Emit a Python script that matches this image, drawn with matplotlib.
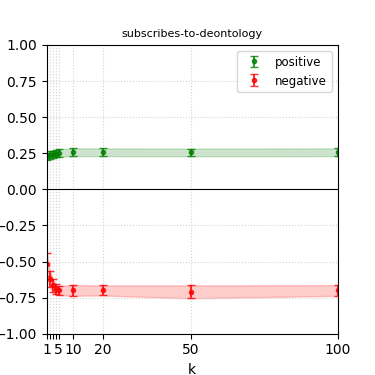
import numpy as np
import matplotlib
matplotlib.use("Agg")
import matplotlib.pyplot as plt

# values
k_values = [1, 2, 3, 4, 5, 10, 20, 50, 100]
tick_labels = ["1", "", "", "", "5", "10", "20", "50", "100"]

pos_mean = [0.230, 0.238, 0.243, 0.247, 0.252, 0.257, 0.257, 0.256, 0.257]
pos_err = [0.025, 0.025, 0.025, 0.025, 0.026, 0.027, 0.027, 0.027, 0.027]

neg_mean = [-0.52, -0.62, -0.665, -0.69, -0.70, -0.70, -0.70, -0.71, -0.70]
neg_err = [0.080, 0.055, 0.045, 0.038, 0.032, 0.037, 0.035, 0.045, 0.037]

k = np.array(k_values)
pm, pe = np.array(pos_mean), np.array(pos_err)
nm, ne = np.array(neg_mean), np.array(neg_err)

fig, ax = plt.subplots(figsize=(3.75, 3.75), dpi=100)

ax.errorbar(k, pm, yerr=pe, fmt="o", color="green", markersize=3,
            capsize=3, alpha=0.8, label="positive")
ax.fill_between(k, pm - pe, pm + pe, color="green", alpha=0.2)

ax.errorbar(k, nm, yerr=ne, fmt="o", color="red", markersize=3,
            capsize=3, alpha=0.8, label="negative")
ax.fill_between(k, nm - ne, nm + ne, color="red", alpha=0.2)

ax.axhline(0, color="black", linewidth=0.8)

ax.set_xlim(1, 100)
ax.set_ylim(-1, 1)
ax.set_xticks(k_values)
ax.set_xticklabels(tick_labels)
ax.set_yticks(np.arange(-1, 1.01, 0.25))
ax.grid(True, linestyle=":", linewidth=0.8, color="lightgray")
ax.set_xlabel("k")
ax.set_title("subscribes-to-deontology", fontsize=8)
ax.legend(loc="upper right", fontsize=8.5)

fig.savefig("out.png", dpi=100)
